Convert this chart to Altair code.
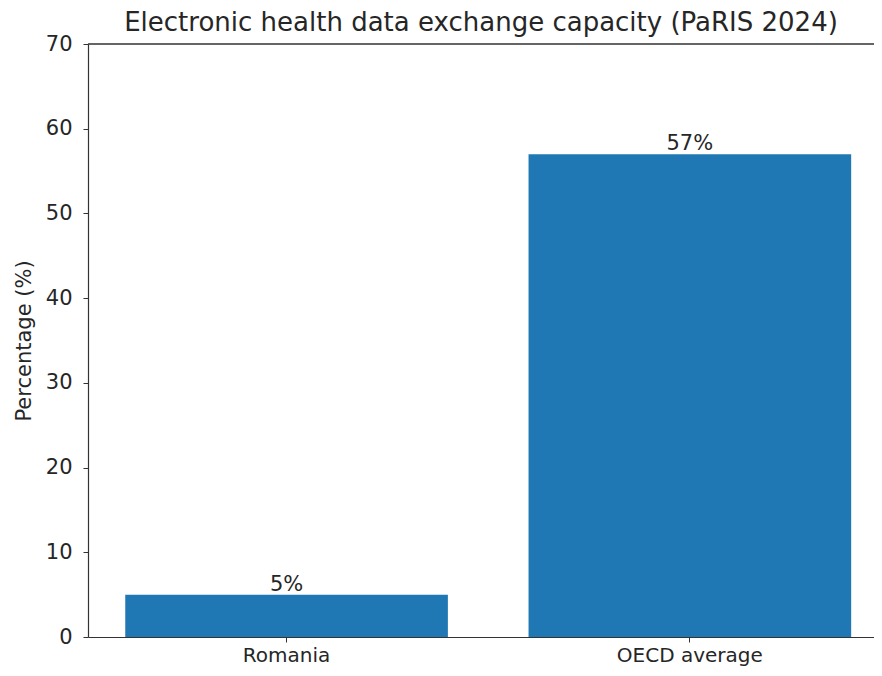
import altair as alt
import pandas as pd

categories = ["Romania", "OECD average"]
values = [5, 57]
labels = ["5%", "57%"]

df = pd.DataFrame({"category": categories, "value": values, "label": labels})

FONT = "DejaVu Sans"
TXT = "#262626"

x = alt.X("category:N", sort=categories, title=None,
          scale=alt.Scale(paddingInner=0.2, paddingOuter=0.0745, align=0.62),
          axis=alt.Axis(labelAngle=0, labelFontSize=20, labelFont=FONT, labelColor=TXT,
                        domainColor="#333333", tickColor="#333333", tickSize=5,
                        labelPadding=3, domainWidth=1.2))
y = alt.Y("value:Q", title="Percentage (%)",
          scale=alt.Scale(domain=[0, 70], nice=False),
          axis=alt.Axis(values=[0, 10, 20, 30, 40, 50, 60, 70], grid=False,
                        labelFontSize=21, labelFont=FONT, labelColor=TXT,
                        titleFontSize=21, titleFont=FONT, titleColor=TXT, titleFontWeight="normal",
                        domainColor="#333333", tickColor="#333333", tickSize=5,
                        labelPadding=11, titlePadding=11, domainWidth=1.2))

bars = alt.Chart(df).mark_bar(color="#1f77b4").encode(x=x, y=y)
text = alt.Chart(df).mark_text(baseline="bottom", dy=0, fontSize=21, font=FONT, color=TXT).encode(
    x=alt.X("category:N", sort=categories), y="value:Q", text="label:N")
top = alt.Chart(df).mark_rule(color="#333333", strokeWidth=1.2).encode(y=alt.datum(70))

chart = alt.layer(bars, text, top).properties(
    width=786, height=593,
    title=alt.TitleParams("Electronic health data exchange capacity (PaRIS 2024)",
                          fontSize=26, font=FONT, color=TXT, fontWeight="normal",
                          anchor="middle", offset=-3),
    autosize=alt.AutoSizeParams(type="none"),
    padding={"left": 80, "top": 36, "right": 0, "bottom": 31},
).configure_view(stroke=None)

chart.save("out.html", embed_options={"renderer": "svg", "actions": False})
